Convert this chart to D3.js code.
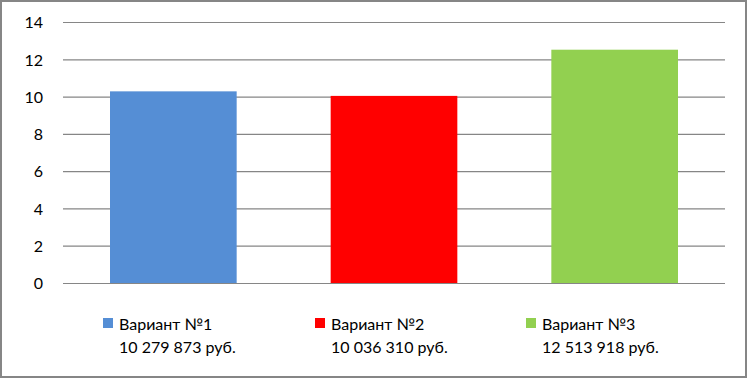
<!DOCTYPE html>
<html>
<head>
<meta charset="utf-8">
<script src="https://cdn.jsdelivr.net/npm/d3@7"></script>
<style>
  body { margin: 0; background: #ffffff; }
  svg text { font-family: Lato, "Open Sans", sans-serif; fill: #000000; }
</style>
</head>
<body>
<svg id="chart" width="749" height="380"></svg>
<script>
// данные
const variants = ["Вариант №1", "Вариант №2", "Вариант №3"];
const values = [10.28, 10.036, 12.514];
const sums = ["10 279 873 руб.", "10 036 310 руб.", "12 513 918 руб."];
const colors = ["#558ed5", "#ff0000", "#92d050"];
const yTicks = [0, 2, 4, 6, 8, 10, 12, 14];

const svg = d3.select("#chart"),
    width = +svg.attr("width"),
    height = +svg.attr("height"),
    margin = { top: 22, right: 24, bottom: 97, left: 63 },
    chartWidth = width - margin.left - margin.right,
    chartHeight = height - margin.top - margin.bottom;

// рамка
svg.append("rect")
    .attr("x", 1).attr("y", 1)
    .attr("width", width - 4).attr("height", height - 4)
    .attr("fill", "#ffffff")
    .attr("stroke", "#868686")
    .attr("stroke-width", 2);

const chart = svg.append("g")
    .attr("transform", `translate(${margin.left},${margin.top})`);

const x = d3.scaleBand()
    .domain(variants)
    .range([0, chartWidth])
    .paddingInner(0.426)
    .paddingOuter(0.213);

const y = d3.scaleLinear()
    .domain([0, 14])
    .range([chartHeight, 0]);

// сетка
const yAxis = chart.append("g")
    .call(d3.axisLeft(y).tickValues(yTicks).tickSize(-chartWidth).tickPadding(20));
yAxis.select(".domain").remove();
yAxis.selectAll(".tick line").attr("stroke", "#868686").attr("stroke-width", 1.2);
yAxis.selectAll(".tick text")
    .style("font-size", "16px")
    .attr("dy", "0.36em");

// столбцы
chart.selectAll(".bar")
    .data(values)
    .join("rect")
    .attr("class", "bar")
    .attr("x", (d, i) => x(variants[i]))
    .attr("y", d => y(d))
    .attr("width", x.bandwidth())
    .attr("height", d => chartHeight - y(d))
    .attr("fill", (d, i) => colors[i]);

// легенда
const legendX = [103, 315, 526];
const legend = svg.selectAll(".legend")
    .data(variants)
    .join("g")
    .attr("class", "legend")
    .attr("transform", (d, i) => `translate(${legendX[i]},318)`);

legend.append("rect")
    .attr("width", 10)
    .attr("height", 10)
    .attr("fill", (d, i) => colors[i]);

legend.append("text")
    .attr("x", 16)
    .attr("y", 12)
    .style("font-size", "16px")
    .text(d => d);

legend.append("text")
    .attr("x", 16)
    .attr("y", 35)
    .style("font-size", "16px")
    .text((d, i) => sums[i]);
</script>
</body>
</html>
